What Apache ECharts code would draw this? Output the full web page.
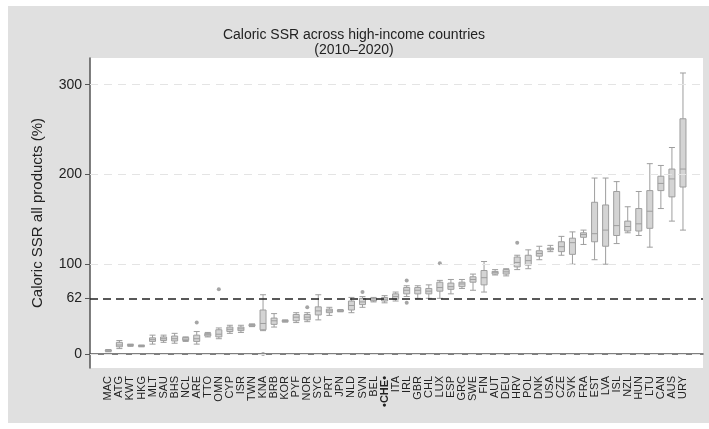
<!DOCTYPE html>
<html><head><meta charset="utf-8">
<script src="https://cdn.jsdelivr.net/npm/echarts@6/dist/echarts.min.js"></script>
<style>html,body{margin:0;padding:0;background:#fff}#c{width:709px;height:429px}</style>
</head><body><div id="c"></div>
<script>
const countries = ['MAC','ATG','KWT','HKG','MLT','SAU','BHS','NCL','ARE','TTO','OMN','CYP','ISR','TWN','KNA','BRB','KOR','PYF','NOR','SYC','PRT','JPN','NLD','SVN','BEL','CHE','ITA','IRL','GBR','CHL','LUX','ESP','GRC','SWE','FIN','AUT','DEU','HRV','POL','DNK','USA','CZE','SVK','FRA','EST','LVA','ISL','NZL','HUN','LTU','CAN','AUS','URY'];
const whiskerLow  = [2.5,6,8.5,8,11,13,12,14,11,19,17,23,24,30.5,26,30,35.5,35,36,38,43,47,46,52,58,57,59,64,62,62,62,67,73,71,69,88,87,94,95,105,114,110,100,122,105,100,123,135,132,119,162,148,138];
const q1          = [3,8,9.5,8.5,14,15,14.5,15,14,20,19,25,26,31,27,33,36,37,38,43.5,46,47.5,49,55,59,59,61,67,67,67,70,72,75,80,77,89,89,97,99,109,116,114,111,130,125,120,132,137,137,140,182,175,186];
const median      = [3.5,10,10,9,16,17,17,16.5,17,21.5,22,27.5,28,32,34,37,37,41,41,48,48,48,54,58,60,61,64,71,71,70,74,75,78,83,85,91,91.5,102,104,112,117,119.5,124,133,134,138,143,142,145,159,190,195,206];
const q3          = [4.5,13,10.5,9.5,18,19,20,18.5,21,23,27,30,30,33,49,40,37.5,44,44,52.5,50,49,59,62,62,63,67,74,74,73,80,79,80,86,93,92,94,108,110,115,118,125,129,135,169,166,181,148,162,182,198,206,262];
const whiskerHigh = [5,15,11,10,21,21,23,19,25,24,29,32,32,33.5,66,45,38,46,46,66,52,49.5,63,64,63,65,69,76,76,77,82,83,83,89,103,94,95,110,116,120,121,131,136,138,196,196,192,164,181,212,210,230,313];
const outlierCountry = ['ARE','OMN','KNA','NOR','SVN','IRL','IRL','LUX','HRV'];
const outlierValue   = [35,72,0,52,69,82,57,101,124];
const yTickValues = [0,62,100,200,300];
const gridLineValues = [0,100,200,300];
const threshold = 62;
const highlightCountry = 'CHE';
const titleText = 'Caloric SSR across high-income countries\n(2010\u20132020)';
const yAxisName = 'Caloric SSR all products (%)';

const FONT = "'Liberation Sans', Arial, sans-serif";
const yMin = -15.6, yMax = 329.7;

const boxData = countries.map((c,i)=>[whiskerLow[i],q1[i],median[i],q3[i],whiskerHigh[i]]);
const outData = outlierCountry.map((c,i)=>[c,outlierValue[i]]);

const chart = echarts.init(document.getElementById('c'));
chart.setOption({
  animation:false,
  backgroundColor:'#fff',
  graphic:[{type:'rect',z:-100,shape:{x:8,y:6,width:701,height:417},style:{fill:'#e0e0e0'}}],
  title:{text:titleText,left:349,textAlign:'center',top:23,
    textStyle:{fontFamily:FONT,fontSize:14,fontWeight:'normal',color:'#222',lineHeight:15}},
  grid:[
    {left:90,right:6,top:58,bottom:61,show:true,backgroundColor:'#fff',borderWidth:0},
    {left:102.8,right:20.5,top:58,bottom:61}
  ],
  xAxis:[
    {type:'value',gridIndex:0,min:0,max:1,axisLine:{show:true,lineStyle:{color:'#555',width:1.5}},
      axisTick:{show:false},axisLabel:{show:false},splitLine:{show:false}},
    {type:'category',gridIndex:1,data:countries,boundaryGap:true,
      axisLine:{show:false},axisTick:{show:false},splitLine:{show:false},
      axisLabel:{rotate:90,interval:0,margin:8,fontFamily:FONT,fontSize:11,color:'#222',
        formatter:v=> v===highlightCountry ? '{b|\u2022'+v+'\u2022}' : v,
        rich:{b:{fontWeight:'bold',fontFamily:FONT,fontSize:11,color:'#222'}}}}
  ],
  yAxis:[
    {type:'value',gridIndex:0,min:yMin,max:yMax,
      name:yAxisName,nameLocation:'middle',nameGap:45,nameRotate:90,
      nameTextStyle:{fontFamily:FONT,fontSize:15,color:'#222'},
      axisLine:{show:true,lineStyle:{color:'#555',width:1.5}},
      axisTick:{show:true,length:5,customValues:yTickValues,lineStyle:{color:'#555'}},
      axisLabel:{customValues:yTickValues,fontFamily:FONT,fontSize:14,color:'#222',margin:8},
      splitLine:{show:false}},
    {type:'value',gridIndex:1,min:yMin,max:yMax,show:false,splitLine:{show:false}}
  ],
  series:[
    {type:'line',xAxisIndex:0,yAxisIndex:0,data:[],silent:true,
      markLine:{silent:true,symbol:'none',label:{show:false},
        data:[
          ...gridLineValues.map(v=>({yAxis:v,lineStyle:{color:'#e4e4e4',width:1,type:[8,6]}})),
          {yAxis:threshold,lineStyle:{color:'#222',width:1.5,type:[8,5]}}
        ]}},
    {type:'boxplot',xAxisIndex:1,yAxisIndex:1,data:boxData,boxWidth:[6,6],
      itemStyle:{color:'#d4d4d4',borderColor:'#9e9e9e',borderWidth:1}},
    {type:'scatter',xAxisIndex:1,yAxisIndex:1,data:outData,symbolSize:4,
      itemStyle:{color:'#8f8f8f'}}
  ]
});
</script></body></html>
